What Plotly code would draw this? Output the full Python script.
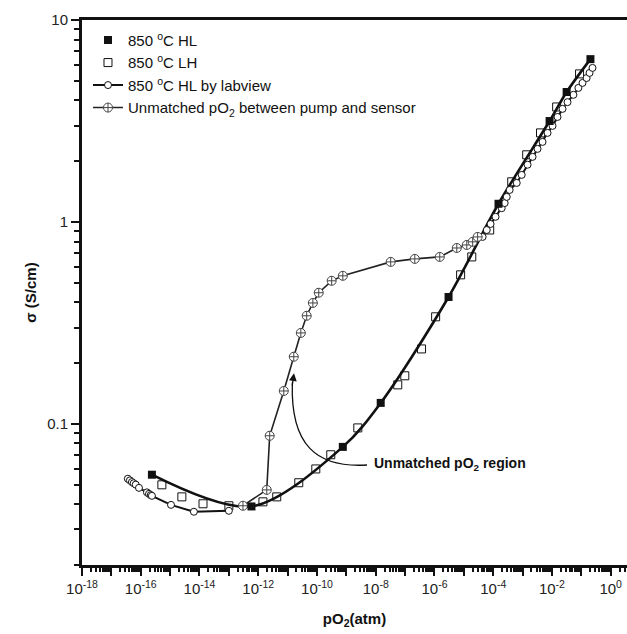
import numpy as np
import plotly.graph_objects as go

# pO2 values are kept as log10(atm); conductivity in S/cm.
hl_log_po2 = [-15.62, -12.23, -9.12, -7.83, -5.52, -3.82, -2.08, -1.50, -0.69]
hl_sigma = [0.056, 0.039, 0.0769, 0.127, 0.425, 1.23, 3.16, 4.4, 6.4]

lh_log_po2 = [-15.28, -14.60, -13.88, -13.00, -11.84, -11.37, -10.62, -10.04, -9.53,
              -8.61, -7.25, -7.01, -6.44, -5.96, -5.11, -4.73, -4.12, -3.37, -2.86,
              -2.39, -1.84, -1.06]
lh_sigma = [0.0499, 0.0435, 0.0402, 0.0393, 0.0411, 0.0435, 0.0511, 0.0598, 0.0703,
            0.0955, 0.156, 0.173, 0.235, 0.339, 0.547, 0.671, 0.912, 1.58, 2.15,
            2.76, 3.71, 5.41]

lv_log_po2 = [-16.44, -16.37, -16.30, -16.24, -16.17, -16.06, -15.79, -15.72, -15.66,
              -15.62, -14.97, -14.19, -13.00,
              None,
              -4.36, -4.22, -4.09, -3.92, -3.71, -3.61, -3.54, -3.44, -3.20, -3.03,
              -2.83, -2.66, -2.49, -2.32, -2.15, -1.98, -1.81, -1.64, -1.47, -1.27,
              -1.10, -0.96, -0.82, -0.72, -0.62]
lv_sigma = [0.0535, 0.0525, 0.0515, 0.0508, 0.0500, 0.0482, 0.0458, 0.0450, 0.0444,
            0.0440, 0.0397, 0.0367, 0.0371,
            None,
            0.843, 0.912, 0.977, 1.06, 1.17, 1.24, 1.33, 1.44, 1.56, 1.71,
            1.92, 2.10, 2.30, 2.49, 2.76, 2.99, 3.31, 3.63, 3.92, 4.26,
            4.61, 4.88, 5.16, 5.47, 5.79]

um_log_po2 = [-12.52, -11.71, -11.61, -11.13, -10.79, -10.55, -10.35, -10.14, -9.94,
              -9.50, -9.12, -7.49, -6.67, -5.82, -5.24, -4.90, -4.70, -4.53]
um_sigma = [0.0393, 0.0471, 0.0873, 0.1455, 0.215, 0.282, 0.343, 0.397, 0.446,
            0.511, 0.541, 0.634, 0.656, 0.671, 0.743, 0.769, 0.797, 0.843]

x_major_exp = list(range(-18, 1))
y_major = [0.1, 1, 10]
y_major_text = ["0.1", "1", "10"]


def to_po2(logs):
    return [None if v is None else 10 ** v for v in logs]


FONT = "Liberation Sans, Arial, sans-serif"
INK = "#111111"

fig = go.Figure()

# smooth HL curve through the filled squares
fig.add_trace(go.Scatter(
    x=to_po2(hl_log_po2), y=hl_sigma, mode="lines",
    line=dict(color=INK, width=2.6, shape="spline", smoothing=0.9),
    showlegend=False, hoverinfo="skip"))

fig.add_trace(go.Scatter(
    x=to_po2(lh_log_po2), y=lh_sigma, mode="markers", name="850 <sup>o</sup>C LH",
    marker=dict(symbol="square-open", size=8, color=INK, line=dict(width=1))))

fig.add_trace(go.Scatter(
    x=to_po2(lv_log_po2), y=lv_sigma, mode="lines+markers",
    name="850 <sup>o</sup>C HL by labview",
    line=dict(color=INK, width=2),
    marker=dict(symbol="circle", size=7, color="white",
                line=dict(color=INK, width=1))))

fig.add_trace(go.Scatter(
    x=to_po2(um_log_po2), y=um_sigma, mode="lines+markers",
    name="Unmatched pO<sub>2</sub> between pump and sensor",
    line=dict(color="#222222", width=1.6),
    marker=dict(symbol="circle-cross", size=9, color="white",
                line=dict(color="#444444", width=1))))

fig.add_trace(go.Scatter(
    x=to_po2(hl_log_po2), y=hl_sigma, mode="markers", name="850 <sup>o</sup>C HL",
    marker=dict(symbol="square", size=8, color=INK, line=dict(width=0))))

# legend order: HL, LH, labview, unmatched
fig.data[4].legendrank = 1
fig.data[1].legendrank = 2
fig.data[2].legendrank = 3
fig.data[3].legendrank = 4

x_minor = [k * 10.0 ** d for d in range(-18, 1) for k in range(2, 10)]
y_minor = [k * 10.0 ** d for d in range(-2, 1) for k in range(2, 10)]
x_ticktext = [f"10<sup>{e}</sup>" if e % 2 == 0 else "" for e in x_major_exp]

tick_font = dict(family=FONT, size=15, color="#222222")

fig.update_xaxes(
    type="log", range=[-18, 0.555],
    tickmode="array", tickvals=[10.0 ** e for e in x_major_exp], ticktext=x_ticktext,
    ticks="outside", ticklen=8, tickwidth=2, tickcolor=INK,
    showline=True, linewidth=3, linecolor=INK, mirror=True,
    showgrid=False, zeroline=False, tickfont=tick_font,
    minor=dict(tickmode="array", tickvals=x_minor, ticks="outside",
               ticklen=4, tickwidth=1.5, tickcolor=INK, showgrid=False),
    title=dict(text="<b>pO<sub>2</sub>(atm)</b>",
               font=dict(family=FONT, size=15, color=INK), standoff=18),
)
fig.update_yaxes(
    type="log", range=[np.log10(0.02), 1],
    tickmode="array", tickvals=y_major, ticktext=y_major_text,
    ticks="outside", ticklen=8, tickwidth=2, tickcolor=INK,
    showline=True, linewidth=3, linecolor=INK,
    showgrid=False, zeroline=False, tickfont=tick_font,
    minor=dict(tickmode="array", tickvals=y_minor, ticks="outside",
               ticklen=5, tickwidth=2, tickcolor=INK, showgrid=False),
    title=dict(text="<b>σ (S/cm)</b>",
               font=dict(family=FONT, size=15, color=INK), standoff=7),
)

# curved pointer towards the unmatched loop
fig.add_shape(type="path", xref="paper", yref="paper",
              path="M 0.523 0.1835 C 0.43 0.178, 0.382 0.22, 0.386 0.335",
              line=dict(color=INK, width=1.3))
fig.add_annotation(xref="paper", yref="paper", x=0.389, y=0.352,
                   ax=-2, ay=14, showarrow=True, arrowhead=2, arrowsize=1.2,
                   arrowwidth=1.3, arrowcolor=INK, text="")
fig.add_annotation(xref="paper", yref="paper", x=0.532, y=0.185,
                   xanchor="left", yanchor="middle", showarrow=False,
                   text="<b>Unmatched pO<sub>2</sub> region</b>",
                   font=dict(family=FONT, size=14, color=INK))

fig.update_layout(
    width=627, height=634,
    margin=dict(l=82, r=0, t=20, b=69),
    paper_bgcolor="white", plot_bgcolor="white",
    font=dict(family=FONT, size=14, color=INK),
    legend=dict(x=0.011, y=0.993, xanchor="left", yanchor="top",
                bgcolor="rgba(0,0,0,0)", tracegroupgap=0,
                font=dict(family=FONT, size=15, color=INK),
                itemwidth=30),
)

fig.write_html("out.html")
